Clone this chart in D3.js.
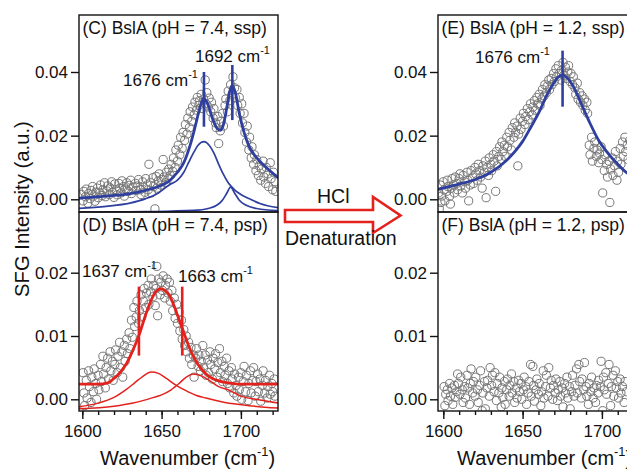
<!DOCTYPE html>
<html>
<head>
<meta charset="utf-8">
<script src="https://cdn.jsdelivr.net/npm/d3@7"></script>
<style>
body { margin: 0; background: #fff; }
text { font-family: "Liberation Sans", Arial, sans-serif; fill: #111; }
</style>
</head>
<body>
<svg id="chart" width="627" height="469"></svg>
<script>
// all intensities are in units of 1e-3 a.u., wavenumbers in cm-1

// (C) pH 7.4 ssp, measured points [wavenumber, intensity]
var ptsC = [[1599.5,1.5],[1600.5,-0.5],[1601,2.5],[1602,0.8],[1602.5,3.2],[1603.5,-1.2],[1604,1.8],[1605,0.2],
  [1605.5,2.8],[1606.5,4.0],[1607,1.0],[1608,-0.6],[1608.5,2.2],[1609.5,3.5],[1610,0.5],[1611,2.0],[1611.5,4.5],
  [1612.5,1.2],[1613,3.0],[1614,5.2],[1614.5,0.8],[1615.5,2.6],[1616,4.2],[1617,1.5],[1617.5,3.6],[1618.5,5.5],
  [1619,2.2],[1620,0.6],[1620.5,4.8],[1621.5,3.0],[1622,1.4],[1623,5.0],[1623.5,3.5],[1624.5,2.0],[1625,5.8],
  [1626,4.0],[1626.5,1.0],[1627.5,3.2],[1628,5.2],[1629,2.5],[1629.5,4.4],[1630.5,6.0],[1631,1.8],[1632,3.8],
  [1633.5,5.0],[1634,2.8],[1635,4.2],[1635.5,6.2],[1636.5,3.0],[1637,1.5],[1638,5.5],[1638.5,3.8],[1639.5,2.2],
  [1640,6.5],[1641,4.5],[1641.5,3.0],[1642,11.0],[1643,5.2],[1643.5,2.0],[1644.5,6.8],[1645,4.0],[1645.8,-3.0],
  [1646.5,7.2],[1647,3.5],[1648,5.8],[1648.5,8.0],[1649.5,4.5],[1650,6.2],[1651,12.5],[1651.5,7.0],[1652.5,5.2],
  [1653,8.5],[1654,6.5],[1654.5,9.5],[1655.5,7.5],[1656,11.0],[1657,8.8],[1657.5,13.0],[1658.5,10.0],[1659,15.5],
  [1660,12.0],[1660.5,17.0],[1661.5,14.0],[1662,19.5],[1663,16.0],[1663.5,21.0],[1664.5,18.5],[1665,23.5],
  [1666,20.5],[1666.5,25.5],[1667.5,22.5],[1668,27.5],[1669,24.5],[1669.5,29.0],[1670.5,26.5],[1671,30.5],
  [1672,28.0],[1672.5,32.0],[1673.5,29.5],[1674,31.0],[1675,33.0],[1675.5,28.5],[1676.5,31.5],[1677.5,37.5],
  [1678,30.0],[1678.5,33.5],[1679.5,29.0],[1680,31.8],[1681,27.5],[1681.5,30.5],[1682.5,25.5],[1683,28.5],
  [1684,24.0],[1684.5,22.5],[1685.5,26.0],[1686,17.5],[1687,21.5],[1687.5,24.5],[1688.5,27.0],[1689,23.0],
  [1690,29.5],[1690.5,31.5],[1691.5,27.5],[1692,34.0],[1693,31.0],[1693.5,36.0],[1694.5,33.0],[1695,38.5],
  [1696,35.0],[1696.5,32.0],[1697.5,34.5],[1698,29.5],[1699,32.0],[1699.5,27.0],[1700.5,30.0],[1701,24.0],
  [1702,27.0],[1702.5,21.0],[1703.5,18.0],[1704,23.0],[1705,15.5],[1705.5,19.5],[1706.5,13.0],[1707,16.5],
  [1708,11.0],[1708.5,14.0],[1709.5,9.0],[1710,12.5],[1711,7.5],[1711.5,10.5],[1712.5,6.0],[1713,9.5],
  [1714,12.0],[1714.5,7.0],[1715.5,5.0],[1716,10.0],[1717,8.0],[1717.5,4.0],[1718.5,11.5],[1719,6.5],
  [1720,3.0],[1720.5,8.5],[1721.5,5.5],[1722,2.5]];
// (C) fit curves
var fitC = [[1597,0.3],[1610,0.8],[1620,1.2],[1630,1.8],[1640,2.8],[1648,4.0],[1654,5.5],[1660,8.5],[1664,11.5],
  [1668,17.0],[1671,22.5],[1674,28.5],[1676.5,31.7],[1679,30.0],[1682,25.5],[1685,22.3],[1687,21.7],[1689,23.5],
  [1691,28.5],[1693,34.0],[1694.6,35.7],[1696.5,33.5],[1699,27.0],[1702,21.0],[1705,16.8],[1710,13.0],
  [1716,10.0],[1724,6.6]];
var fitC1 = [[1597,-2.9],[1615,-2.2],[1630,-1.2],[1640,0.2],[1648,2.0],[1655,4.6],[1660,6.0],[1664,8.5],
  [1667,11.5],[1670,14.5],[1673,17.0],[1676.7,18.1],[1680,17.0],[1683,14.5],[1686,11.0],[1689,7.8],[1692,5.2],
  [1696,3.0],[1700,1.5],[1706,0.0],[1712,-1.3],[1724,-2.7]];
var fitC2 = [[1597,-4.1],[1640,-3.9],[1670,-3.5],[1680,-2.8],[1685,-1.8],[1688,-0.5],[1691,1.8],[1693.5,3.8],
  [1696,2.0],[1699,-0.3],[1703,-1.8],[1710,-2.9],[1724,-3.6]];

// (D) pH 7.4 psp
var ptsD = [[1600.5,4.2],[1601,1.0],[1601.5,-1.0],[1602.5,3.0],[1603,0.2],[1604,4.5],[1604.5,2.0],[1605.5,-0.5],
  [1606,3.5],[1607,1.2],[1607.5,4.8],[1608.5,2.5],[1609,0.0],[1610,3.8],[1610.5,1.5],[1611.5,5.5],[1612,2.8],
  [1613,6.8],[1613.5,4.0],[1614.5,1.8],[1615,5.0],[1616,6.5],[1616.5,3.2],[1617.5,7.5],[1618,4.5],[1619,6.0],
  [1619.5,3.0],[1620.5,5.5],[1621,7.8],[1622,4.2],[1622.5,6.8],[1623.5,9.0],[1624,5.0],[1625,7.5],[1625.5,3.5],
  [1626.5,8.5],[1627,6.0],[1628,9.5],[1628.5,7.2],[1629.5,10.5],[1630,8.0],[1631,12.5],[1631.5,9.8],[1632.5,14.5],
  [1633,11.5],[1634,13.0],[1634.5,15.5],[1635.5,12.0],[1636,14.0],[1637,16.5],[1637.5,13.0],[1638.5,15.5],
  [1639,17.5],[1640,14.5],[1640.5,16.8],[1641.5,18.0],[1642,15.0],[1643,17.0],[1643.5,19.0],[1644.5,16.2],
  [1645,18.0],[1646,14.8],[1646.5,17.5],[1647,21.0],[1647.5,13.2],[1648,19.0],[1649,16.5],[1649.5,18.5],
  [1650.5,17.2],[1651,19.5],[1652,16.0],[1652.5,18.0],[1653.5,19.0],[1654,16.8],[1655,18.5],[1655.5,15.5],
  [1656.5,17.2],[1657,14.0],[1658,16.0],[1658.5,12.8],[1659.5,15.0],[1660,12.0],[1661,13.8],[1661.5,10.8],
  [1662.5,12.5],[1663,9.5],[1664,11.0],[1664.5,8.5],[1665.5,10.0],[1666,7.5],[1667,9.0],[1667.5,6.5],
  [1668.5,8.2],[1669,5.5],[1670,7.0],[1670.5,3.5],[1671.5,6.5],[1672,8.0],[1673,5.2],[1673.5,7.0],[1674.5,4.5],
  [1675,6.0],[1676,8.5],[1676.5,5.0],[1677.5,7.0],[1678,3.8],[1679,6.2],[1679.5,4.2],[1680.5,7.5],[1681,5.5],
  [1682,3.2],[1682.5,6.5],[1683.5,4.8],[1684,7.2],[1685,3.5],[1685.5,5.8],[1686.5,8.0],[1687,4.2],[1688,6.0],
  [1688.5,2.8],[1689.5,5.2],[1690,3.8],[1691,6.5],[1691.5,2.5],[1692.5,4.5],[1693,1.8],[1694,5.0],[1694.5,3.2],
  [1695.5,1.0],[1696,4.0],[1697,2.2],[1697.5,0.5],[1698.5,3.5],[1699,1.5],[1700,4.2],[1700.5,0.0],[1701.5,2.8],
  [1702,5.2],[1703,1.2],[1703.5,3.8],[1704.5,-0.2],[1705,2.5],[1706,4.5],[1706.5,1.0],[1707.5,3.0],[1708,5.0],
  [1709,0.5],[1709.5,2.8],[1710.5,4.0],[1711,1.2],[1712,3.2],[1712.5,-0.3],[1713.5,2.2],[1714,4.5],[1715,1.0],
  [1715.5,3.0],[1716.5,0.2],[1717,2.0],[1718,3.8],[1718.5,0.8],[1719.5,2.5],[1720,1.2],[1721,3.2],[1721.5,0.5]];
var fitD = [[1597,2.4],[1610,2.4],[1616,2.6],[1620,3.3],[1624,4.3],[1628,5.7],[1632,7.8],[1636,10.3],[1640,13.4],
  [1644,16.0],[1647,17.2],[1649.5,17.5],[1652,17.2],[1655,16.4],[1659,14.0],[1663,11.2],[1667,8.5],[1671,6.3],
  [1675,4.8],[1680,3.6],[1686,2.9],[1692,2.6],[1700,2.4],[1724,2.4]];
var fitD1 = [[1597,-1.2],[1610,-0.6],[1620,0.3],[1628,1.6],[1633,2.6],[1638,3.6],[1643.5,4.3],[1648,4.1],
  [1653,3.3],[1658,2.4],[1665,1.4],[1672,0.6],[1678,0.2],[1690,-0.5],[1705,-1.0],[1724,-1.4]];
var fitD2 = [[1597,-1.5],[1620,-1.1],[1632,-0.6],[1645,0.3],[1650,0.7],[1656,1.5],[1661,2.5],[1665,3.4],
  [1670,4.0],[1675,3.7],[1680,3.0],[1686,2.0],[1692,1.5],[1700,0.5],[1712,-0.1],[1724,-0.6]];

// (E) pH 1.2 ssp
var ptsE = [[1597,2.0],[1597.5,-3.0],[1598,4.5],[1598.5,-1.0],[1599,1.0],[1600,5.5],[1600.5,3.0],[1601,-0.5],
  [1602,2.5],[1602.5,6.0],[1603,4.0],[1604,1.0],[1604.5,-1.5],[1605,3.5],[1605.5,6.5],[1606.5,4.5],[1607,2.0],
  [1607.5,7.0],[1608.5,5.0],[1609,3.0],[1610,6.5],[1610.5,8.0],[1611,4.2],[1612,2.0],[1612.5,7.5],[1613.5,5.5],
  [1614,3.5],[1615,8.5],[1615.5,6.0],[1616,-0.5],[1617,4.5],[1617.5,9.0],[1618.5,7.0],[1619,5.0],[1620,10.0],
  [1620.5,8.0],[1621.5,6.0],[1622,11.0],[1623,9.0],[1623.5,7.0],[1624.5,3.5],[1625,10.5],[1626,8.5],[1626.5,12.0],
  [1627,0.5],[1627.5,10.0],[1628.5,7.5],[1629,13.0],[1630,11.0],[1630.5,9.0],[1631.5,14.0],[1632,12.0],
  [1633,2.5],[1633.5,15.0],[1634,10.5],[1635,13.5],[1635.5,16.5],[1636.5,12.5],[1637,18.0],[1637.5,15.0],
  [1638.5,17.0],[1639,13.5],[1640,19.5],[1640.5,16.5],[1641.5,21.0],[1642,18.5],[1643,15.5],[1643.5,22.5],
  [1644.5,19.5],[1645,24.0],[1645.5,21.0],[1646.5,23.0],[1647,10.5],[1647.5,20.5],[1648.5,25.5],[1649,22.0],
  [1650,24.5],[1650.5,27.0],[1651.5,23.5],[1652,26.0],[1653,28.5],[1653.5,25.0],[1654.5,27.5],[1655,30.0],
  [1656,26.5],[1656.5,29.0],[1657.5,31.0],[1658,28.0],[1659,32.0],[1659.5,30.0],[1660.5,33.0],[1661,29.5],
  [1662,31.5],[1662.5,34.5],[1663.5,32.5],[1664,36.0],[1665,33.5],[1665.5,35.5],[1666.5,37.5],[1667,34.5],
  [1668,38.0],[1668.5,36.0],[1669.5,39.5],[1670,37.0],[1671,41.0],[1671.5,38.5],[1672.5,42.0],[1673,39.5],
  [1674,37.5],[1674.5,40.5],[1675.5,43.0],[1676,39.0],[1677,41.5],[1677.5,38.0],[1678.5,40.0],[1679,42.0],
  [1680,37.0],[1680.5,39.5],[1681.5,36.0],[1682,38.5],[1683,35.0],[1683.5,33.0],[1684.5,36.5],[1685,31.5],
  [1686,33.5],[1686.5,30.5],[1687.5,32.5],[1688,29.5],[1689,31.5],[1689.5,28.0],[1690.5,30.5],[1691,27.0],
  [1692,17.0],[1692.5,14.0],[1693.5,19.5],[1694,12.0],[1695,16.0],[1695.5,18.0],[1696.5,13.5],[1697,15.5],
  [1698,11.5],[1698.5,14.5],[1699.5,16.5],[1700,12.5],[1700.5,2.0],[1701.5,9.0],[1702,14.0],[1703,11.0],
  [1703.5,7.0],[1704.5,12.0],[1705,-1.0],[1705.5,9.5],[1706.5,13.0],[1707,7.5],[1708,10.5],[1708.5,15.0],
  [1709.5,6.0],[1710,12.0],[1710.5,8.5],[1711.5,16.0],[1712,11.0],[1713,18.0],[1713.5,13.5],[1714.5,19.5],
  [1715,15.0],[1716,17.0],[1716.5,12.5],[1717.5,18.5]];
var fitE = [[1596,3.1],[1610,4.8],[1619,6.0],[1629,8.2],[1640,12.3],[1646,15.5],[1650,18.2],[1655,22.5],
  [1661,28.0],[1665,32.5],[1669,36.0],[1672,38.2],[1675,39.0],[1678,38.2],[1682,35.4],[1687,30.0],
  [1692.5,23.9],[1698,18.5],[1703,15.0],[1710,11.0],[1716,8.2],[1722,6.8]];

// (F) pH 1.2 psp
var ptsF = [[1600.5,2.0],[1601,-1.0],[1601.5,0.8],[1602.5,1.5],[1603,-0.2],[1604,2.5],[1604.5,0.5],[1605.5,1.8],
  [1606,-0.8],[1607,2.2],[1607.5,0.3],[1608.5,1.2],[1609,4.0],[1609.5,2.5],[1610.5,0.8],[1611,3.5],[1612,1.5],
  [1612.5,-0.5],[1613.5,2.0],[1614,0.2],[1615,3.8],[1615.5,1.8],[1616.5,-0.8],[1617,2.5],[1617.5,4.8],
  [1618.5,1.0],[1619,2.8],[1620,0.5],[1620.5,3.5],[1621.5,1.5],[1622,-0.5],[1623,2.2],[1623.5,4.5],[1624.5,-1.8],
  [1625,1.0],[1626,2.8],[1626.5,-1.5],[1627.5,1.8],[1628,3.0],[1629,0.5],[1629.5,5.0],[1630.5,2.2],[1631,3.8],
  [1632,1.2],[1632.5,4.2],[1633.5,-0.2],[1634,2.5],[1635,1.0],[1635.5,3.5],[1636.5,-1.2],[1637,1.8],[1637.5,0.3],
  [1638.5,2.8],[1639,-0.8],[1640,1.5],[1640.5,3.2],[1641.5,0.5],[1642,2.2],[1643,4.0],[1643.5,1.0],[1644.5,2.8],
  [1645,-0.5],[1646,1.8],[1646.5,0.2],[1647.5,3.0],[1648,1.2],[1649,2.5],[1649.5,0.0],[1650.5,1.5],[1651,3.5],
  [1652,2.0],[1652.5,-0.8],[1653.5,1.0],[1654,2.8],[1655,5.5],[1655.5,0.5],[1656.5,5.2],[1657,2.2],[1657.5,-0.3],
  [1658.5,1.5],[1659,3.2],[1660,0.8],[1660.5,2.5],[1661.5,-1.0],[1662,1.2],[1663,4.5],[1663.5,0.2],[1664.5,2.0],
  [1665,3.8],[1666,0.5],[1666.5,5.0],[1667.5,1.8],[1668,3.0],[1669,0.0],[1669.5,2.2],[1670.5,1.0],[1671,3.2],
  [1672,-0.2],[1672.5,1.5],[1673.5,2.8],[1674,0.5],[1675,1.8],[1675.5,-1.2],[1676.5,2.5],[1677,1.0],[1678,3.5],
  [1678.5,0.2],[1679.5,2.0],[1680,-1.5],[1681,1.2],[1681.5,3.8],[1682.5,0.5],[1683,2.2],[1684,4.8],[1684.5,1.0],
  [1685.5,5.5],[1686,2.8],[1687,0.2],[1687.5,3.2],[1688.5,1.5],[1689,5.8],[1690,2.0],[1690.5,0.5],[1691.5,-0.8],
  [1692,2.5],[1693,1.2],[1693.5,3.5],[1694.5,0.2],[1695,1.8],[1696,-0.5],[1696.5,2.2],[1697.5,1.0],[1698,3.0],
  [1699,2.0],[1699.5,6.0],[1700.5,-1.8],[1701,3.5],[1701.5,1.5],[1702.5,4.2],[1703,0.8],[1704,2.5],[1704.5,5.5],
  [1705.5,-1.0],[1706,2.0],[1707,3.8],[1707.5,0.5],[1708.5,4.5],[1709,1.8],[1710,2.8],[1710.5,0.2],[1711.5,3.2],
  [1712,1.0],[1713,2.0],[1714,-0.5],[1714.5,2.8],[1715.5,1.2]];

// peak marker lines: [wavenumber, low, high]
var markC = [[1676.7,22.8,40.0],[1694.6,24.9,42.2]];
var markD = [[1635.7,6.9,17.8],[1663.0,6.9,17.8]];
var markE = [[1675.2,29.1,46.7]];

var xMajor = [1600, 1650, 1700];
var xMinor = [1600, 1610, 1620, 1630, 1640, 1650, 1660, 1670, 1680, 1690, 1700, 1710, 1720];
var yTicksSsp = [0, 20, 40], yLabelsSsp = ["0.00", "0.02", "0.04"];
var yTicksPsp = [0, 10, 20], yLabelsPsp = ["0.00", "0.01", "0.02"];

var BLUE = "#2f3f9f", RED = "#e4221d", DOT = "#777";

var svg = d3.select("#chart");

var xL = d3.scaleLinear().domain([1600, 1700]).range([82.3, 240.9]);
var xR = d3.scaleLinear().domain([1600, 1700]).range([443.3, 601.9]);
var yTop = d3.scaleLinear().domain([0, 40]).range([199.3, 72]);
var yBot = d3.scaleLinear().domain([0, 20]).range([399.3, 272.7]);

// text with a "-1" superscript after it
function supText(g, x, y, size, before, after) {
    var t = g.append("text").attr("x", x).attr("y", y).style("font-size", size + "px");
    t.append("tspan").text(before);
    t.append("tspan").attr("dy", -size * 0.45).style("font-size", (size * 0.64) + "px").text("-1");
    if (after) t.append("tspan").attr("dy", size * 0.45).text(after);
    return t;
}

var clipId = 0;
function panel(p) {
    var g = svg.append("g");
    var id = "clip" + (clipId++);
    svg.append("clipPath").attr("id", id).append("rect")
        .attr("x", p.box[0]).attr("y", p.box[1])
        .attr("width", p.box[2] - p.box[0]).attr("height", p.box[3] - p.box[1]);
    var inner = g.append("g").attr("clip-path", "url(#" + id + ")");

    inner.selectAll("circle").data(p.pts).enter().append("circle")
        .attr("cx", function(d) { return p.x(d[0]); })
        .attr("cy", function(d) { return p.y(d[1]); })
        .attr("r", 4.1)
        .attr("fill", "none").attr("stroke", DOT).attr("stroke-width", 1);

    var line = d3.line()
        .x(function(d) { return p.x(d[0]); })
        .y(function(d) { return p.y(d[1]); })
        .curve(d3.curveMonotoneX);
    p.curves.forEach(function(c) {
        inner.append("path").attr("d", line(c.data)).attr("fill", "none")
            .attr("stroke", c.color).attr("stroke-width", c.width);
    });
    (p.marks || []).forEach(function(m) {
        inner.append("line")
            .attr("x1", p.x(m[0])).attr("x2", p.x(m[0]))
            .attr("y1", p.y(m[1])).attr("y2", p.y(m[2]))
            .attr("stroke", p.markColor).attr("stroke-width", 2.6);
    });

    // frame
    g.append("rect").attr("x", p.box[0]).attr("y", p.box[1])
        .attr("width", p.box[2] - p.box[0]).attr("height", p.box[3] - p.box[1])
        .attr("fill", "none").attr("stroke", "#111").attr("stroke-width", 1.4);

    // y axis
    var ya = g.append("g").attr("transform", "translate(" + p.box[0] + ",0)")
        .call(d3.axisLeft(p.y).tickValues(p.yTicks)
            .tickFormat(function(d, i) { return p.yLabels[i]; })
            .tickSize(8).tickSizeOuter(0).tickPadding(3));
    ya.select(".domain").remove();
    ya.selectAll("line").attr("stroke", "#111").attr("stroke-width", 1.4);
    ya.selectAll("text").style("font-size", "17px").attr("fill", "#111")
        .style("font-family", "'Liberation Sans', Arial, sans-serif");

    if (p.xAxis) {
        var xm = g.append("g").attr("transform", "translate(0," + p.box[3] + ")")
            .call(d3.axisBottom(p.x).tickValues(xMinor).tickFormat("").tickSize(4).tickSizeOuter(0));
        xm.select(".domain").remove();
        xm.selectAll("line").attr("stroke", "#111").attr("stroke-width", 1.4);
        var xa = g.append("g").attr("transform", "translate(0," + p.box[3] + ")")
            .call(d3.axisBottom(p.x).tickValues(xMajor).tickFormat(d3.format("d"))
                .tickSize(8).tickSizeOuter(0).tickPadding(6));
        xa.select(".domain").remove();
        xa.selectAll("line").attr("stroke", "#111").attr("stroke-width", 1.4);
        xa.selectAll("text").style("font-size", "17px").attr("fill", "#111")
            .style("font-family", "'Liberation Sans', Arial, sans-serif");
    }

    g.append("text").attr("x", p.box[0] + 3.5).attr("y", p.box[1] + 18.5)
        .style("font-size", "17.5px").text(p.title);
    (p.peakLabels || []).forEach(function(l) { supText(g, l[0], l[1], 17, l[2]); });
}

panel({ box: [79, 15, 278, 212], x: xL, y: yTop, pts: ptsC,
    curves: [{data: fitC1, color: BLUE, width: 1.7}, {data: fitC2, color: BLUE, width: 1.7},
             {data: fitC, color: BLUE, width: 2.8}],
    marks: markC, markColor: BLUE, yTicks: yTicksSsp, yLabels: yLabelsSsp,
    title: "(C) BslA (pH = 7.4, ssp)",
    peakLabels: [[123, 86, "1676 cm"], [195, 62, "1692 cm"]] });

panel({ box: [79, 212, 278, 411], x: xL, y: yBot, pts: ptsD,
    curves: [{data: fitD1, color: RED, width: 1.5}, {data: fitD2, color: RED, width: 1.5},
             {data: fitD, color: RED, width: 2.8}],
    marks: markD, markColor: RED, yTicks: yTicksPsp, yLabels: yLabelsPsp, xAxis: true,
    title: "(D) BslA (pH = 7.4, psp)",
    peakLabels: [[82, 277, "1637 cm"], [178, 282, "1663 cm"]] });

panel({ box: [438, 15, 640, 212], x: xR, y: yTop, pts: ptsE,
    curves: [{data: fitE, color: BLUE, width: 2.8}],
    marks: markE, markColor: BLUE, yTicks: yTicksSsp, yLabels: yLabelsSsp,
    title: "(E) BslA (pH = 1.2, ssp)",
    peakLabels: [[475, 63, "1676 cm"]] });

panel({ box: [438, 212, 640, 411], x: xR, y: yBot, pts: ptsF,
    curves: [], yTicks: yTicksPsp, yLabels: yLabelsPsp, xAxis: true,
    title: "(F) BslA (pH = 1.2, psp)" });

// axis titles
supText(svg, 100, 465, 20, "Wavenumber (cm", ")");
supText(svg, 457, 465, 20, "Wavenumber (cm", ")");
svg.append("text").attr("transform", "translate(29,297) rotate(-90)")
    .style("font-size", "20.3px").text("SFG Intensity (a.u.)");

// HCl arrow between the columns
svg.append("path")
    .attr("d", "M285,210 L373,210 L373,197 L400.5,215.5 L373,233 L373,222 L285,222 Z")
    .attr("fill", "#fff").attr("stroke", RED).attr("stroke-width", 2.6).attr("stroke-linejoin", "miter");
svg.append("text").attr("x", 317).attr("y", 203).style("font-size", "19.5px").text("HCl");
svg.append("text").attr("x", 285).attr("y", 245).style("font-size", "19.5px").text("Denaturation");
</script>
</body>
</html>
